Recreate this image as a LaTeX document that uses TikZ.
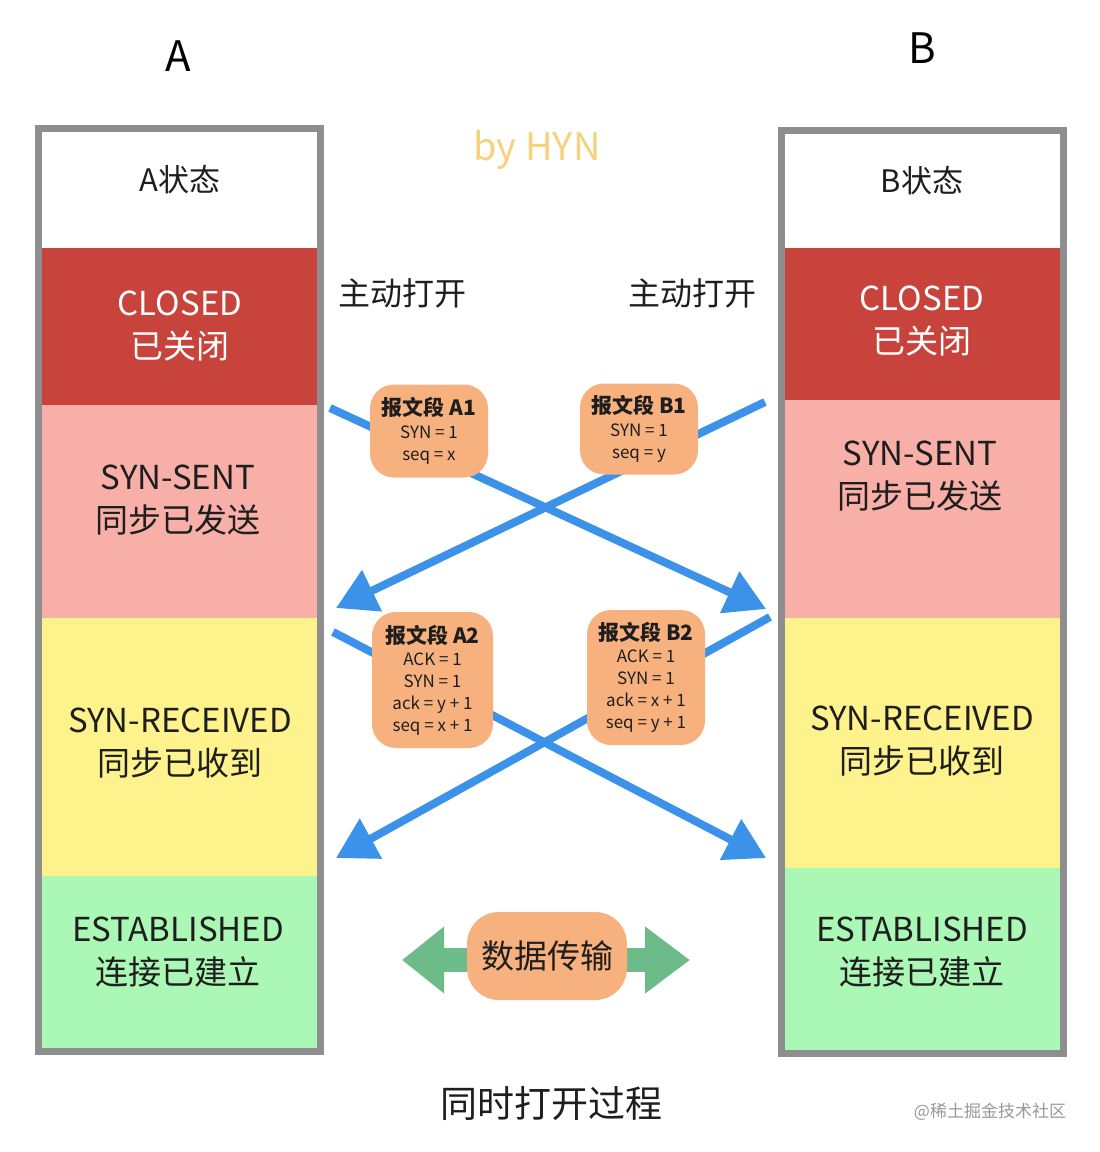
\documentclass[tikz,border=0pt]{standalone}
\usepackage{fontspec}
\setmainfont{Noto Sans CJK SC}
\usetikzlibrary{arrows.meta}
\definecolor{bordergray}{HTML}{8E8E90}
\definecolor{closedred}{HTML}{C9433D}
\definecolor{sentpink}{HTML}{F8AFA8}
\definecolor{recvyellow}{HTML}{FEF28C}
\definecolor{estgreen}{HTML}{ABF7B6}
\definecolor{arrowblue}{HTML}{3B92E8}
\definecolor{segorange}{HTML}{F7B17E}
\definecolor{datagreen}{HTML}{6DBB88}
\definecolor{hyn}{HTML}{F5D27C}
\definecolor{txt}{HTML}{1E1E1E}
\tikzset{
  sect/.style={draw=none, minimum width=275pt, inner sep=0pt, outer sep=0pt},
  bigtxt/.style={font=\fontsize{33}{43}\selectfont, align=center, text=txt},
  seg/.style={fill=segorange, rounded corners=24pt, inner sep=0pt, align=center, text=txt, font=\fontsize{17}{22}\selectfont},
  msg/.style={draw=arrowblue, line width=8pt, -{Triangle[length=40pt,width=44pt]}},
  colborder/.style={draw=bordergray, line width=7pt}
}
\newcommand{\segtitle}[1]{{\fontsize{21}{25}\selectfont\bfseries #1}}
\begin{document}
\begin{tikzpicture}[x=1pt,y=-1pt]
\useasboundingbox (0,0) rectangle (1100,1152);
\fill[white] (0,0) rectangle (1100,1152);
% headers
\node[font=\fontsize{42}{48}\selectfont, text=black] (hA) at (178,56) {A};
\node[font=\fontsize{42}{48}\selectfont, text=black] (hB) at (922,48) {B};
\node[font=\fontsize{38}{44}\selectfont, text=hyn] (hyn) at (537,150) {by HYN};
% column A
\node[sect, fill=white, minimum height=116pt] (awhite) at (179.5,190) {};
\node[sect, fill=closedred, minimum height=157pt] (aclosed) at (179.5,326.5) {};
\node[sect, fill=sentpink, minimum height=213pt] (asent) at (179.5,511.5) {};
\node[sect, fill=recvyellow, minimum height=258pt] (arecv) at (179.5,747) {};
\node[sect, fill=estgreen, minimum height=172pt] (aest) at (179.5,962) {};
\draw[colborder] (38.5,128.5) rectangle (320.5,1051.5);
\node[bigtxt, font=\fontsize{31}{40}\selectfont] (ta0) at (180,180) {A状态};
\node[bigtxt, text=white] (ta1) at (180,326) {CLOSED\\已关闭};
\node[bigtxt] (ta2) at (178,500) {SYN-SENT\\同步已发送};
\node[bigtxt] (ta3) at (180,743) {SYN-RECEIVED\\同步已收到};
\node[bigtxt] (ta4) at (178,952) {ESTABLISHED\\连接已建立};
% column B
\node[sect, fill=white, minimum height=114pt] (bwhite) at (922.5,191) {};
\node[sect, fill=closedred, minimum height=152pt] (bclosed) at (922.5,324) {};
\node[sect, fill=sentpink, minimum height=218pt] (bsent) at (922.5,509) {};
\node[sect, fill=recvyellow, minimum height=250pt] (brecv) at (922.5,743) {};
\node[sect, fill=estgreen, minimum height=182pt] (best) at (922.5,959) {};
\draw[colborder] (781.5,130.5) rectangle (1063.5,1053.5);
\node[bigtxt, font=\fontsize{31}{40}\selectfont] (tb0) at (922,181) {B状态};
\node[bigtxt, text=white] (tb1) at (922,321) {CLOSED\\已关闭};
\node[bigtxt] (tb2) at (920,476) {SYN-SENT\\同步已发送};
\node[bigtxt] (tb3) at (922,741) {SYN-RECEIVED\\同步已收到};
\node[bigtxt] (tb4) at (922,952) {ESTABLISHED\\连接已建立};
% open labels
\node[font=\fontsize{32}{36}\selectfont, text=txt] (openA) at (402,293) {主动打开};
\node[font=\fontsize{32}{36}\selectfont, text=txt] (openB) at (692,293) {主动打开};
% arrow endpoints
\coordinate (a1s) at (330,408);
\coordinate (a1e) at (766,609);
\coordinate (b1s) at (765,402);
\coordinate (b1e) at (336,608);
\coordinate (a2s) at (333,632);
\coordinate (a2e) at (766,858);
\coordinate (b2s) at (770,617);
\coordinate (b2e) at (336,858);
\draw[msg] (a1s) -- (a1e);
\draw[msg] (b1s) -- (b1e);
\draw[msg] (a2s) -- (a2e);
\draw[msg] (b2s) -- (b2e);
% segments
\node[seg, minimum width=118pt, minimum height=93pt] (segA1) at (429,431)
  {\segtitle{报文段 A1}\\[1pt] SYN = 1\\ seq = x};
\node[seg, minimum width=118pt, minimum height=91pt] (segB1) at (639,429)
  {\segtitle{报文段 B1}\\[1pt] SYN = 1\\ seq = y};
\node[seg, minimum width=121pt, minimum height=136pt] (segA2) at (432.5,680)
  {\segtitle{报文段 A2}\\ ACK = 1\\ SYN = 1\\ ack = y + 1\\ seq = x + 1};
\node[seg, minimum width=118pt, minimum height=135pt] (segB2) at (646,677.5)
  {\segtitle{报文段 B2}\\ ACK = 1\\ SYN = 1\\ ack = x + 1\\ seq = y + 1};
% data transfer
\coordinate (dl) at (402,960);
\coordinate (dr) at (690,960);
\draw[draw=datagreen, line width=24pt, {Triangle[length=42pt,width=64pt]}-{Triangle[length=45pt,width=64pt]}] (dl) -- (dr);
\node[fill=segorange, rounded corners=32pt, minimum width=160pt, minimum height=88pt, inner sep=0pt, text=txt, font=\fontsize{33}{40}\selectfont] (data) at (547,956) {数据传输};
% footer
\node[font=\fontsize{37}{42}\selectfont, text=txt] (title) at (551,1103) {同时打开过程};
\node[font=\fontsize{17}{20}\selectfont, text=gray!80] (wm) at (990,1112) {@稀土掘金技术社区};
\end{tikzpicture}
\end{document}
